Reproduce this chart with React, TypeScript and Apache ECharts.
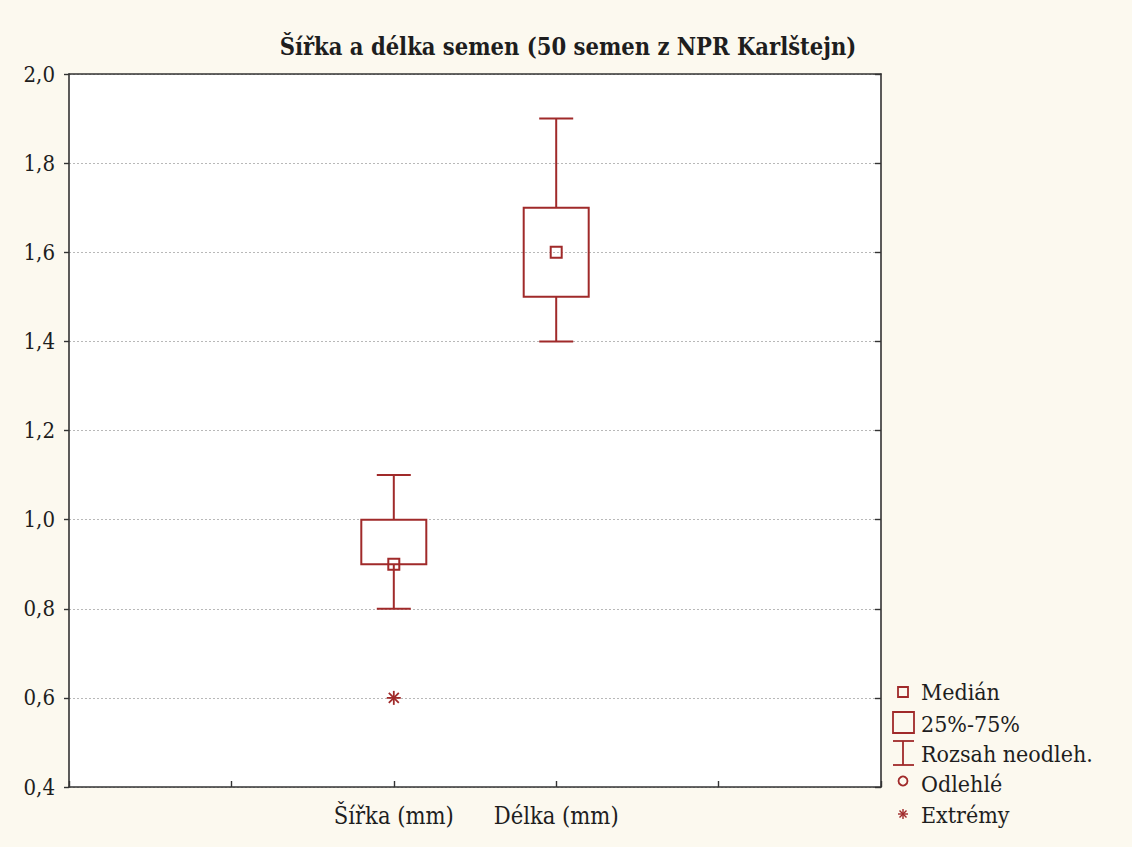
import React, { useEffect, useRef } from "react";
import * as echarts from "echarts";

const xCategories = ["", "", "Šířka (mm)", "Délka (mm)", "", ""];
const boxCategories = ["Šířka (mm)", "Délka (mm)"];
const whiskerLow = [0.8, 1.4];
const quartile1 = [0.9, 1.5];
const medians = [0.9, 1.6];
const quartile3 = [1.0, 1.7];
const whiskerHigh = [1.1, 1.9];
const extremeCats = ["Šířka (mm)"];
const extremeValues = [0.6];
const yMin = 0.4;
const yMax = 2.0;
const yStep = 0.2;

const RED = "#a02a2a";
const FONT = "'DejaVu Serif Condensed', 'DejaVu Serif', 'Liberation Serif', serif";
const TXT = "#1e1e1e";

export default function App() {
  const ref = useRef<HTMLDivElement>(null);
  useEffect(() => {
    const chart = echarts.init(ref.current!, null, { renderer: "svg" });
    const boxData = boxCategories.map((c, i) => [
      xCategories.indexOf(c),
      whiskerLow[i],
      quartile1[i],
      medians[i],
      quartile3[i],
      whiskerHigh[i],
    ]);
    const extremeData = extremeCats.map((c, i) => [xCategories.indexOf(c), extremeValues[i]]);
    const lineStyle = { stroke: RED, lineWidth: 2, fill: "none" };

    const legendX = 903;
    const textX = 921;
    const legendText = (t: string, y: number) => ({
      type: "text",
      x: textX,
      y,
      style: { text: t, font: `23px ${FONT}`, fill: TXT, textVerticalAlign: "middle", verticalAlign: "middle" },
    });

    chart.setOption({
      animation: false,
      backgroundColor: "#fcf9ef",
      title: {
        text: "Šířka a délka semen (50 semen z NPR Karlštejn)",
        left: 563,
        textAlign: "center",
        top: 30,
        textStyle: { fontFamily: FONT, fontWeight: "bold", fontSize: 23.5, color: TXT },
      },
      grid: {
        left: 69,
        right: 251,
        top: 74,
        bottom: 60,
        show: true,
        backgroundColor: "#ffffff",
        borderWidth: 0,
      },
      xAxis: [
        {
          type: "category",
          data: xCategories,
          boundaryGap: false,
          position: "bottom",
          axisLine: { show: true, lineStyle: { color: "#333", width: 1.6 } },
          axisTick: { show: true, inside: true, length: 6, lineStyle: { color: "#333", width: 1.4 } },
          axisLabel: { show: true, interval: 0, margin: 17, fontFamily: FONT, fontSize: 23.5, color: TXT },
          splitLine: { show: false },
        },
        {
          type: "category",
          data: xCategories,
          boundaryGap: false,
          position: "top",
          axisLine: { show: true, lineStyle: { color: "#333", width: 1.6 } },
          axisTick: { show: false },
          axisLabel: { show: false },
          splitLine: { show: false },
        },
      ],
      yAxis: [
        {
          type: "value",
          min: yMin,
          max: yMax,
          interval: yStep,
          position: "left",
          axisLine: { show: true, lineStyle: { color: "#333", width: 1.6 } },
          axisTick: { show: true, inside: false, length: 5, lineStyle: { color: "#333", width: 1.4 } },
          axisLabel: {
            margin: 14,
            fontFamily: FONT,
            fontSize: 22,
            color: TXT,
            formatter: (v: number) => v.toFixed(1).replace(".", ","),
          },
          splitLine: { show: true, lineStyle: { type: [2, 2], color: "#b8b8b8", width: 1 } },
        },
        {
          type: "value",
          min: yMin,
          max: yMax,
          interval: yStep,
          position: "right",
          axisLine: { show: true, lineStyle: { color: "#333", width: 1.6 } },
          axisTick: { show: true, inside: true, length: 6, lineStyle: { color: "#333", width: 1.4 } },
          axisLabel: { show: false },
          splitLine: { show: false },
        },
      ],
      series: [
        {
          type: "custom",
          xAxisIndex: 0,
          yAxisIndex: 0,
          data: boxData,
          renderItem: (params: any, api: any) => {
            const x = api.value(0);
            const pLow = api.coord([x, api.value(1)]);
            const pQ1 = api.coord([x, api.value(2)]);
            const pMed = api.coord([x, api.value(3)]);
            const pQ3 = api.coord([x, api.value(4)]);
            const pHigh = api.coord([x, api.value(5)]);
            const cx = pLow[0];
            const bw = 65;
            const cw = 34;
            const ms = 11;
            return {
              type: "group",
              children: [
                { type: "line", shape: { x1: cx, y1: pHigh[1], x2: cx, y2: pQ3[1] }, style: lineStyle },
                { type: "line", shape: { x1: cx, y1: pQ1[1], x2: cx, y2: pLow[1] }, style: lineStyle },
                { type: "line", shape: { x1: cx - cw / 2, y1: pHigh[1], x2: cx + cw / 2, y2: pHigh[1] }, style: lineStyle },
                { type: "line", shape: { x1: cx - cw / 2, y1: pLow[1], x2: cx + cw / 2, y2: pLow[1] }, style: lineStyle },
                {
                  type: "rect",
                  shape: { x: cx - bw / 2, y: pQ3[1], width: bw, height: pQ1[1] - pQ3[1] },
                  style: lineStyle,
                },
                {
                  type: "rect",
                  shape: { x: cx - ms / 2, y: pMed[1] - ms / 2, width: ms, height: ms },
                  style: lineStyle,
                },
              ],
            };
          },
        },
        {
          type: "custom",
          xAxisIndex: 0,
          yAxisIndex: 0,
          data: extremeData,
          renderItem: (params: any, api: any) => {
            const p = api.coord([api.value(0), api.value(1)]);
            const r = 7;
            const d = 5;
            const st = { stroke: RED, lineWidth: 1.8 };
            return {
              type: "group",
              children: [
                { type: "line", shape: { x1: p[0] - r, y1: p[1], x2: p[0] + r, y2: p[1] }, style: st },
                { type: "line", shape: { x1: p[0], y1: p[1] - r, x2: p[0], y2: p[1] + r }, style: st },
                { type: "line", shape: { x1: p[0] - d, y1: p[1] - d, x2: p[0] + d, y2: p[1] + d }, style: st },
                { type: "line", shape: { x1: p[0] - d, y1: p[1] + d, x2: p[0] + d, y2: p[1] - d }, style: st },
              ],
            };
          },
        },
      ],
      graphic: [
        { type: "rect", shape: { x: legendX - 5, y: 687, width: 10, height: 10 }, style: { ...lineStyle, lineWidth: 1.8 } },
        legendText("Medián", 692),
        { type: "rect", shape: { x: 893, y: 712, width: 21, height: 21 }, style: { ...lineStyle, lineWidth: 1.8 } },
        legendText("25%-75%", 724),
        { type: "line", shape: { x1: legendX, y1: 741, x2: legendX, y2: 765 }, style: { stroke: RED, lineWidth: 1.8 } },
        { type: "line", shape: { x1: 893, y1: 741, x2: 914, y2: 741 }, style: { stroke: RED, lineWidth: 1.8 } },
        { type: "line", shape: { x1: 893, y1: 765, x2: 914, y2: 765 }, style: { stroke: RED, lineWidth: 1.8 } },
        legendText("Rozsah neodleh.", 754),
        { type: "circle", shape: { cx: legendX, cy: 781, r: 4.5 }, style: { stroke: RED, lineWidth: 1.8, fill: "none" } },
        legendText("Odlehlé", 784),
        { type: "line", shape: { x1: legendX - 5, y1: 814, x2: legendX + 5, y2: 814 }, style: { stroke: RED, lineWidth: 1.4 } },
        { type: "line", shape: { x1: legendX, y1: 809, x2: legendX, y2: 819 }, style: { stroke: RED, lineWidth: 1.4 } },
        { type: "line", shape: { x1: legendX - 3.5, y1: 810.5, x2: legendX + 3.5, y2: 817.5 }, style: { stroke: RED, lineWidth: 1.4 } },
        { type: "line", shape: { x1: legendX - 3.5, y1: 817.5, x2: legendX + 3.5, y2: 810.5 }, style: { stroke: RED, lineWidth: 1.4 } },
        legendText("Extrémy", 815),
      ],
    });
    return () => chart.dispose();
  }, []);
  return (
    <div
      ref={ref}
      style={{ position: "absolute", left: 0, top: 0, width: 1132, height: 847 }}
    />
  );
}
